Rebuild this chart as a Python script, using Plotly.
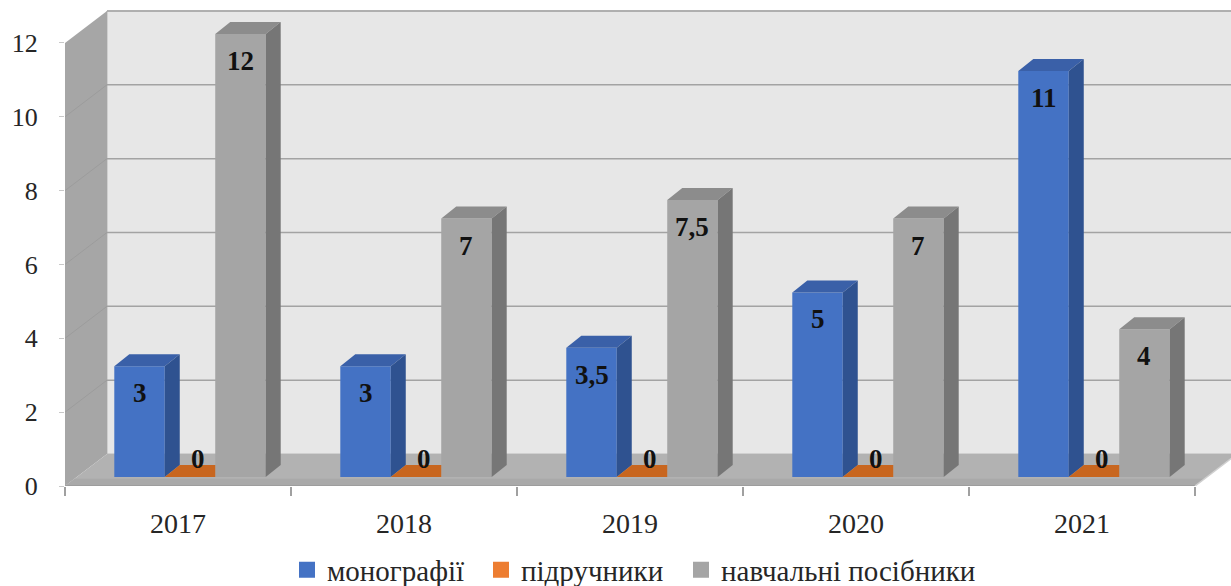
import plotly.graph_objects as go

# ---- data -------------------------------------------------------------
years = ["2017", "2018", "2019", "2020", "2021"]
series_names = ["монографії", "підручники", "навчальні посібники"]
monographs = [3, 3, 3.5, 5, 11]
textbooks = [0, 0, 0, 0, 0]
manuals = [12, 7, 7.5, 7, 4]
y_ticks = [0, 2, 4, 6, 8, 10, 12]
series_values = [monographs, textbooks, manuals]

# ---- styling ----------------------------------------------------------
front_colors = ["#4472C4", "#ED7D31", "#A5A5A5"]
top_colors = ["#3A60A8", "#C8661F", "#8C8C8C"]
side_colors = ["#2F5290", "#B35A1A", "#767676"]
legend_widths = [149, 155, None]
WALL_BACK = "#E7E7E7"
WALL_LEFT = "#A6A6A6"
FLOOR = "#B2B2B2"
GRID = "#A3A3A3"
TEXT = "#262626"
FONT = "Liberation Serif"

# ---- pseudo-3D geometry (pixels) -------------------------------------
W, H = 1231, 586
M_L, M_R, M_T, M_B = 65, 0, 0, 100
PLOT_W = W - M_L - M_R
PLOT_H = H - M_T - M_B
CAT_PX = 226.0          # width of one year slot
UNIT_PX = 36.92         # pixels per value unit
BOX_DEPTH = (42, 32)    # back wall offset (right, up)
BAR_SHIFT = (12, 9)     # bar front plane offset from the front of the box
BAR_DEPTH = (15, 12)    # depth of each column
GAP = 0.33
n_series = len(series_values)
bar_w = (1 - GAP) / n_series

# front-plane axes (tick labels, walls)
fx0 = -0.5
fx_range = [fx0, fx0 + PLOT_W / CAT_PX]
fy_range = [0, PLOT_H / UNIT_PX]
# bar-plane axes: same scale, shifted into the box
bx0 = fx0 - BAR_SHIFT[0] / CAT_PX
by0 = -BAR_SHIFT[1] / UNIT_PX
bx_range = [bx0, bx0 + PLOT_W / CAT_PX]
by_range = [by0, by0 + PLOT_H / UNIT_PX]

Dx, Dy = BOX_DEPTH[0] / CAT_PX, BOX_DEPTH[1] / UNIT_PX
dx, dy = BAR_DEPTH[0] / CAT_PX, BAR_DEPTH[1] / UNIT_PX


def poly(points):
    return "M " + " L ".join(f"{x:.5f},{y:.5f}" for x, y in points) + " Z"


fig = go.Figure()

# front faces of the columns
x_pos = list(range(len(years)))
for k, (name, vals, col) in enumerate(zip(series_names, series_values, front_colors)):
    fig.add_trace(go.Bar(
        x=x_pos, y=vals, name=name, legendgroup=f"s{k}", showlegend=False,
        marker=dict(color=col, line=dict(width=0)),
        xaxis="x", yaxis="y", hoverinfo="skip",
    ))
# legend keys with larger square swatches
for k, (name, col) in enumerate(zip(series_names, front_colors)):
    fig.add_trace(go.Scatter(
        x=[None], y=[None], name=name, legendgroup=f"s{k}", mode="markers",
        marker=dict(symbol="square", size=16, color=col, line=dict(width=0)),
        legendwidth=legend_widths[k],
        xaxis="x", yaxis="y", hoverinfo="skip",
    ))

# invisible trace that activates the front-plane axes
fig.add_trace(go.Scatter(
    x=[0], y=[0], xaxis="x2", yaxis="y2", mode="markers",
    marker=dict(opacity=0), showlegend=False, hoverinfo="skip",
))

shapes = []
# ---- box: back wall, left wall, floor ----
x_end = fx_range[1] + 1
top = max(y_ticks)
shapes.append(dict(type="path", xref="x2", yref="y2", layer="below",
                   path=poly([(fx0 + Dx, Dy), (x_end, Dy), (x_end, top + Dy),
                              (fx0 + Dx, top + Dy)]),
                   fillcolor=WALL_BACK, line=dict(color="#B8B8B8", width=1)))
for t in y_ticks[1:]:
    shapes.append(dict(type="line", xref="x2", yref="y2", layer="below",
                       x0=fx0 + Dx, x1=x_end, y0=t + Dy, y1=t + Dy,
                       line=dict(color=GRID, width=1.5)))
shapes.append(dict(type="path", xref="x2", yref="y2", layer="below",
                   path=poly([(fx0, 0), (fx0, top), (fx0 + Dx, top + Dy),
                              (fx0 + Dx, Dy)]),
                   fillcolor=WALL_LEFT, line=dict(width=0)))
for t in y_ticks[1:-1]:
    shapes.append(dict(type="line", xref="x2", yref="y2", layer="below",
                       x0=fx0, x1=fx0 + Dx, y0=t, y1=t + Dy,
                       line=dict(color="#9C9C9C", width=1)))
x_last = len(years) - 0.5
shapes.append(dict(type="path", xref="x2", yref="y2", layer="below",
                   path=poly([(fx0, 0), (fx0 + Dx, Dy), (x_last + Dx, Dy),
                              (x_last, 0)]),
                   fillcolor=FLOOR, line=dict(width=0)))
shapes.append(dict(type="path", xref="x2", yref="y2", layer="below",
                   path=poly([(fx0, 0), (x_last, 0),
                              (x_last + BAR_SHIFT[0] / CAT_PX * 0.8, BAR_SHIFT[1] / UNIT_PX * 0.8),
                              (fx0 + BAR_SHIFT[0] / CAT_PX * 0.8, BAR_SHIFT[1] / UNIT_PX * 0.8)]),
                   fillcolor="#A9A9A9", line=dict(width=0)))
shapes.append(dict(type="line", xref="x2", yref="y2", layer="below",
                   x0=fx0, x1=x_last, y0=0, y1=0,
                   line=dict(color="#9A9A9A", width=1.5)))
shapes.append(dict(type="line", xref="x2", yref="y2", layer="below",
                   x0=x_last, x1=x_last + Dx, y0=0, y1=Dy,
                   line=dict(color="#D0D0D0", width=1.5)))

# ---- column tops and sides ----
annotations = []
label_font = dict(family=FONT, size=27, color="#111111", weight="bold")
for i in x_pos:
    for k, vals in enumerate(series_values):
        v = vals[i]
        xc = i + (k - (n_series - 1) / 2) * bar_w
        xl, xr = xc - bar_w / 2, xc + bar_w / 2
        nxt = series_values[k + 1][i] if k + 1 < n_series else None
        hidden_right = nxt is not None and nxt > v
        right_top = xr if hidden_right else xr + dx
        shapes.append(dict(type="path", xref="x", yref="y", layer="above",
                           path=poly([(xl, v), (xr, v), (right_top, v + dy),
                                      (xl + dx, v + dy)]),
                           fillcolor=top_colors[k], line=dict(width=0)))
        if v > 0 and not hidden_right:
            shapes.append(dict(type="path", xref="x", yref="y", layer="above",
                               path=poly([(xr, 0), (xr, v), (xr + dx, v + dy),
                                          (xr + dx, dy)]),
                               fillcolor=side_colors[k], line=dict(width=0)))
        label = f"{v:g}".replace(".", ",")
        if v > 0:
            annotations.append(dict(x=xc, y=v, xref="x", yref="y", text=label,
                                    showarrow=False, yshift=-27, font=label_font))
        else:
            annotations.append(dict(x=xc + dx / 2, y=v, xref="x", yref="y", text=label,
                                    showarrow=False, yshift=18, font=label_font))

fig.update_layout(
    width=W, height=H,
    margin=dict(l=M_L, r=M_R, t=M_T, b=M_B, pad=0, autoexpand=False),
    paper_bgcolor="white", plot_bgcolor="white",
    barmode="group", bargap=GAP, bargroupgap=0,
    shapes=shapes, annotations=annotations,
    font=dict(family=FONT, color=TEXT),
    showlegend=True,
    legend=dict(orientation="h", x=(287 - M_L) / PLOT_W, xanchor="left",
                y=(PLOT_H - 570 + M_T) / PLOT_H, yanchor="middle",
                font=dict(family=FONT, size=29, color=TEXT),
                bgcolor="rgba(0,0,0,0)"),
    xaxis=dict(range=bx_range, visible=False, fixedrange=True),
    yaxis=dict(range=by_range, visible=False, fixedrange=True),
    xaxis2=dict(overlaying="x", anchor="y2", side="bottom", range=fx_range,
                tickmode="array", tickvals=x_pos, ticktext=years, ticks="",
                tickfont=dict(family=FONT, size=28, color=TEXT),
                showgrid=False, zeroline=False, showline=False,
                ticklabelstandoff=18,
                minor=dict(tickmode="array",
                           tickvals=[p - 0.5 for p in range(len(years) + 1)],
                           ticks="outside", ticklen=9, tickcolor="#A0A0A0",
                           tickwidth=1.5, showgrid=False),
                fixedrange=True),
    yaxis2=dict(overlaying="y", anchor="x2", side="left", range=fy_range,
                tickmode="array", tickvals=y_ticks,
                ticks="outside", ticklen=5, tickcolor="#C8C8C8", tickwidth=1,
                tickfont=dict(family=FONT, size=26, color=TEXT),
                ticklabelstandoff=16,
                showgrid=False, zeroline=False, showline=False,
                fixedrange=True),
)

fig.write_html("out.html")
